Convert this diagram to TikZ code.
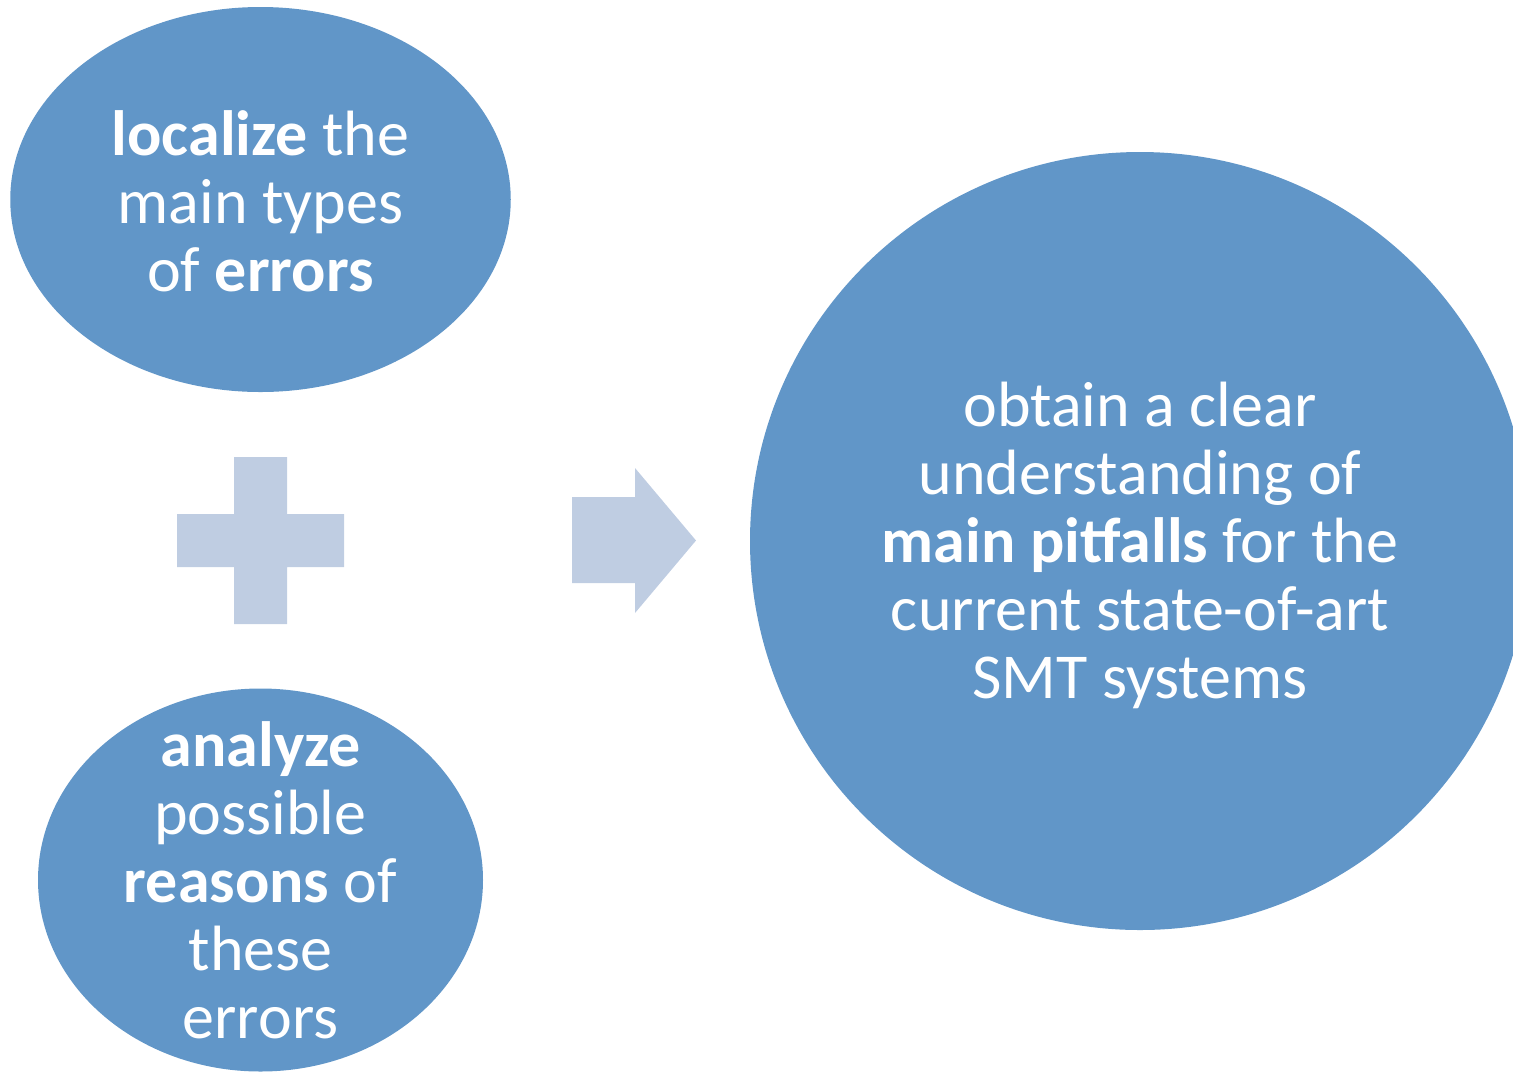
\documentclass[tikz,border=0pt]{standalone}
\usepackage{fontspec}
\setmainfont{Carlito}
\definecolor{ovalblue}{RGB}{97,150,200}
\definecolor{signblue}{RGB}{191,205,226}
\tikzset{every picture/.style={line width=0.75pt}}
\tikzset{
  oval/.style={ellipse, fill=ovalblue, draw=none, inner sep=0pt},
  ovaltext/.style={text=white, align=center, inner sep=0pt,
    font=\fontsize{48}{51}\selectfont},
  sign/.style={fill=signblue, draw=none}
}
\usetikzlibrary{shapes.geometric}

\begin{document}
\begin{tikzpicture}[x=0.75pt,y=0.75pt,yscale=-1,xscale=1]

\useasboundingbox (0,0) rectangle (1513,1072);
\clip (0,0) rectangle (1513,1072);

% left ovals
\node [oval, minimum width=500.5*0.75pt, minimum height=385*0.75pt] (localize) at (260.5,199.5) {};
\node [ovaltext] (localizetext) at ([yshift=1.5pt]localize.center)
  {\textbf{localize} the\\main types\\of \textbf{errors}};
\node [oval, minimum width=445*0.75pt, minimum height=383*0.75pt] (analyze) at (260.5,880) {};
\node [ovaltext] (analyzetext) at (analyze.center)
  {\textbf{analyze}\\possible\\\textbf{reasons} of\\these\\errors};

% right circle
\node [oval, minimum width=780*0.75pt, minimum height=778*0.75pt] (pitfalls) at (1140,541) {};
\node [ovaltext] (pitfallstext) at ([yshift=3.5pt]pitfalls.center)
  {obtain a clear\\understanding of\\\textbf{main pitfalls} for the\\current state-of-art\\SMT systems};

% plus
\draw [sign] (234,457) -- (287,457) -- (287,514) -- (344,514) -- (344,567) -- (287,567)
  -- (287,624) -- (234,624) -- (234,567) -- (177,567) -- (177,514) -- (234,514) -- cycle ;

% arrow
\draw [sign] (572,497) -- (635,497) -- (635,468) -- (696,540.5) -- (635,613) -- (635,583)
  -- (572,583) -- cycle ;

\end{tikzpicture}
\end{document}
